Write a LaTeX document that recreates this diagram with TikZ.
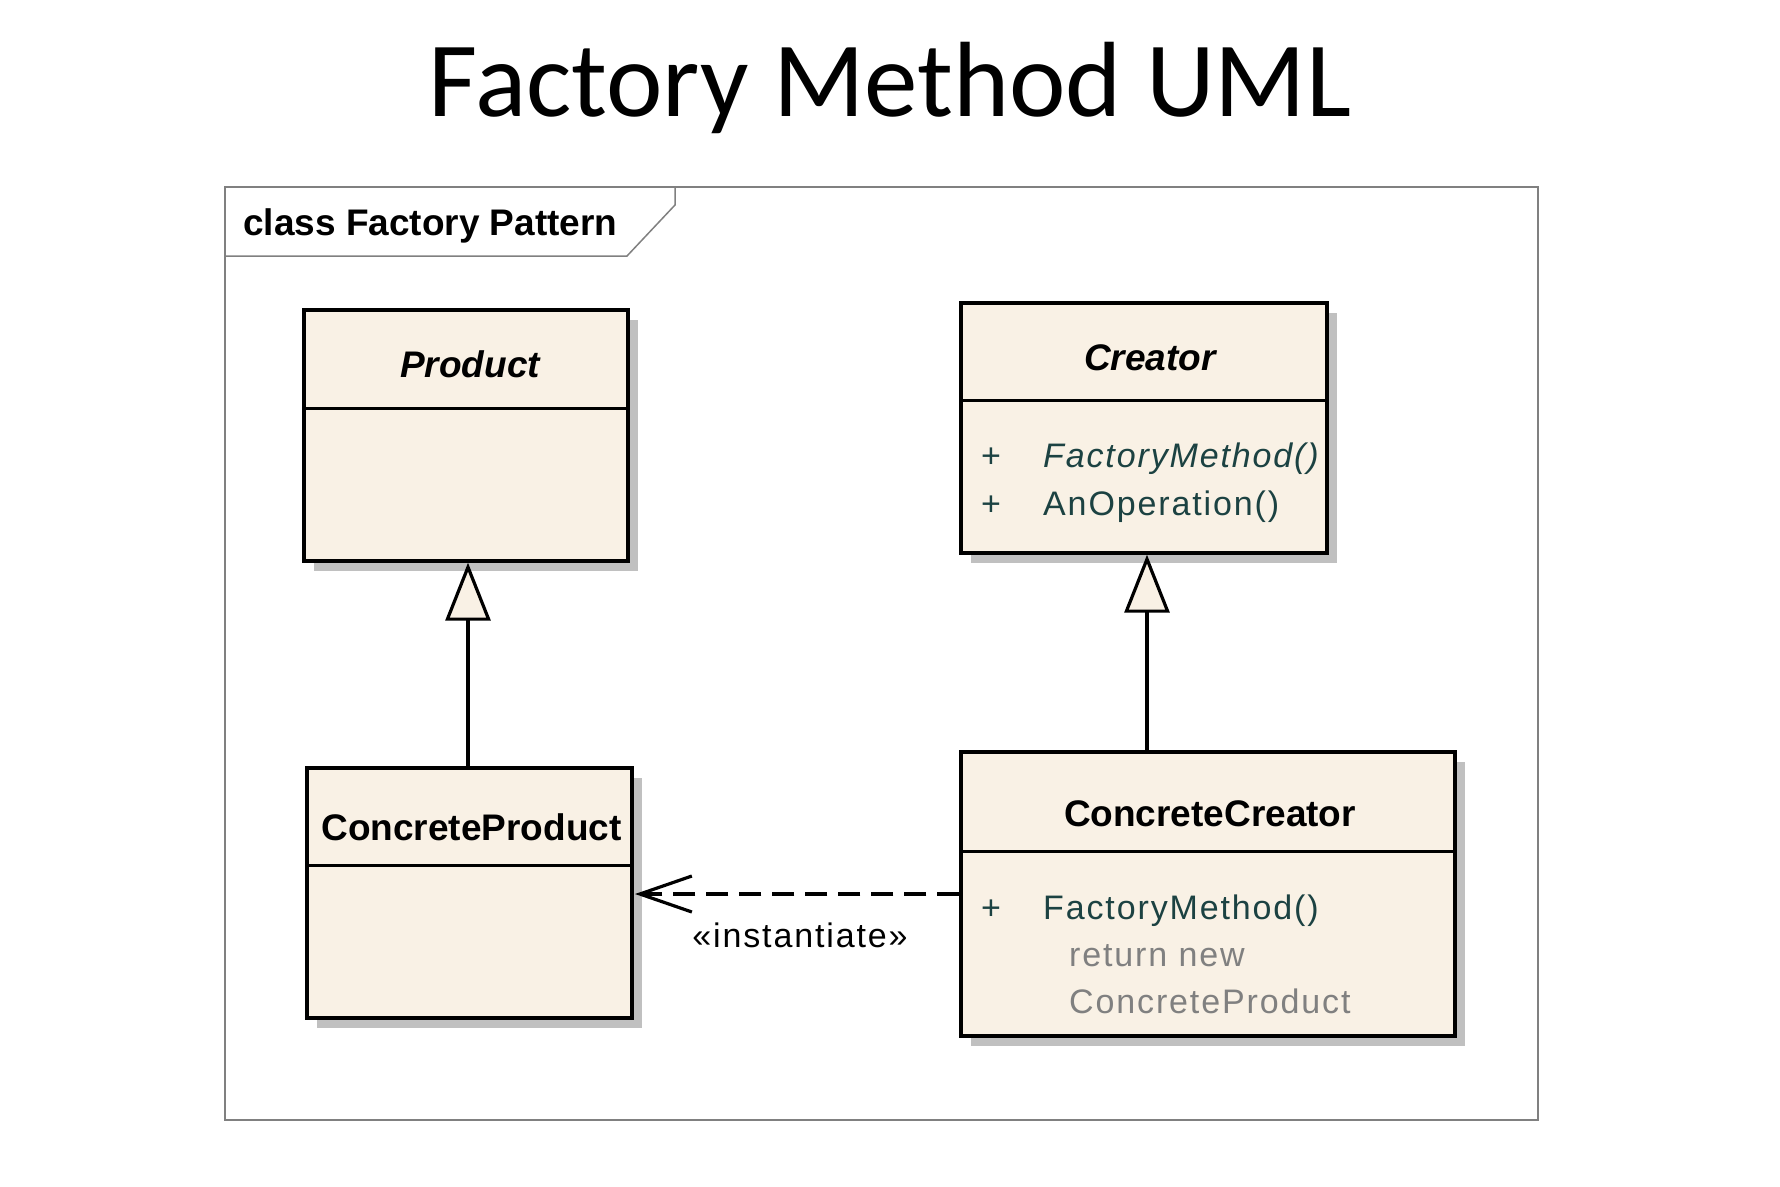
\documentclass[tikz,border=0pt]{standalone}
\usepackage{fontspec}
\setmainfont{Liberation Sans}
\newfontfamily\titlefont{Carlito}
\newfontfamily\memfont[LetterSpace=5.5]{Liberation Sans}
\usetikzlibrary{arrows.meta,shadows}
\definecolor{classfill}{RGB}{249,241,229}
\definecolor{shadowgray}{RGB}{192,192,192}
\definecolor{membercol}{RGB}{28,66,66}
\definecolor{codegray}{RGB}{128,128,128}
\definecolor{framegray}{RGB}{128,128,128}
\tikzset{
  classbox/.style={draw=black, line width=3.4pt, fill=classfill, inner sep=0pt,
    drop shadow={shadow xshift=10pt, shadow yshift=-10pt, fill=shadowgray, opacity=1}},
  divline/.style={draw=black, line width=3pt},
  cname/.style={anchor=base, inner sep=0pt, font=\fontsize{37}{44}\selectfont\bfseries},
  aname/.style={cname, font=\fontsize{37}{44}\selectfont\bfseries\itshape},
  member/.style={anchor=base west, inner sep=0pt, text=membercol, font=\memfont\fontsize{34}{40}\selectfont},
  plus/.style={anchor=base, inner sep=0pt, text=membercol, font=\memfont\fontsize{34}{40}\selectfont},
  code/.style={anchor=base west, inner sep=0pt, text=codegray, font=\memfont\fontsize{34}{40}\selectfont},
  gen/.style={draw=black, line width=3.2pt, -{Triangle[length=58pt, width=45pt, fill=classfill]}},
  dep/.style={draw=black, line width=3.2pt, dash pattern=on 22pt off 11pt, -{Straight Barb[length=52pt, width=36pt]}},
  frameline/.style={draw=framegray, line width=1.5pt}
}
\begin{document}
\begin{tikzpicture}[x=1pt, y=-1pt]
\useasboundingbox (0,0) rectangle (1780,1186);
% title
\node[anchor=base, inner sep=0pt, font=\titlefont\fontsize{107}{120}\selectfont] (title) at (890,116) {Factory Method UML};
% frame
\node[frameline, rectangle, minimum width=1313pt, minimum height=933pt, inner sep=0pt] (frame) at (881.5,653.5) {};
\coordinate (tabA) at (225,256);
\coordinate (tabB) at (627,256);
\coordinate (tabC) at (675,205);
\coordinate (tabD) at (675,187);
\draw[frameline, line join=miter] (tabA) -- (tabB) -- (tabC) -- (tabD);
\node[anchor=base west, inner sep=0pt, font=\fontsize{37}{44}\selectfont\bfseries] (framelabel) at (243,235) {class Factory Pattern};

% classes
\node[classbox, minimum width=324pt, minimum height=251pt] (product) at (466,435.5) {};
\draw[divline] (product.west |- 0,408) -- (product.east |- 0,408);
\node[aname] (productname) at (470,377) {Product};

\node[classbox, minimum width=366pt, minimum height=250pt] (creator) at (1144,428) {};
\draw[divline] (creator.west |- 0,400) -- (creator.east |- 0,400);
\node[aname] (creatorname) at (1150,370) {Creator};
\node[plus] (cp1) at (991,467) {+};
\node[member, font=\memfont\fontsize{34}{40}\selectfont\itshape] (cm1) at (1043,467) {FactoryMethod()};
\node[plus] (cp2) at (991,515) {+};
\node[member] (cm2) at (1043,515) {AnOperation()};

\node[classbox, minimum width=325pt, minimum height=250pt] (cprod) at (469.5,893) {};
\draw[divline] (cprod.west |- 0,865) -- (cprod.east |- 0,865);
\node[cname] (cprodname) at (471.5,840) {ConcreteProduct};

\node[classbox, minimum width=494pt, minimum height=284pt] (ccreator) at (1208,894) {};
\draw[divline] (ccreator.west |- 0,851) -- (ccreator.east |- 0,851);
\node[cname] (ccreatorname) at (1210,826) {ConcreteCreator};
\node[plus] (ccp1) at (991,919) {+};
\node[member] (ccm1) at (1043,919) {FactoryMethod()};
\node[code] (ccc1) at (1069,966) {return new};
\node[code] (ccc2) at (1069,1013) {ConcreteProduct};

% connectors
\coordinate (gx1) at (468,0);
\coordinate (gx2) at (1147,0);
\draw[gen] (cprod.north -| gx1) -- (product.south -| gx1);
\draw[gen] (ccreator.north -| gx2) -- (creator.south -| gx2);
\coordinate (deptip) at (635,894);
\draw[dep] (ccreator.west) -- (deptip);
\node[anchor=base, inner sep=0pt, font=\memfont\fontsize{34}{40}\selectfont] (stereo) at (800,947) {«instantiate»};
\end{tikzpicture}
\end{document}
